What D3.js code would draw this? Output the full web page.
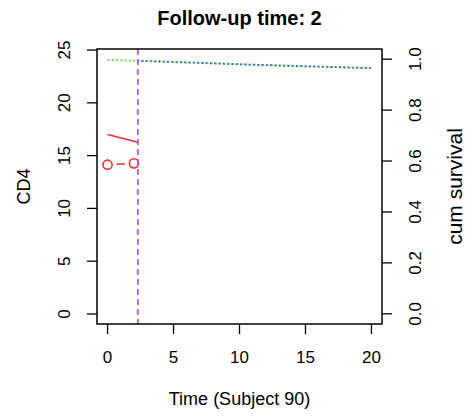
<!DOCTYPE html>
<html>
<head>
<meta charset="utf-8">
<script src="https://cdn.jsdelivr.net/npm/d3@7"></script>
<style>
  body { margin: 0; background: #fff; }
  text { font-family: "Liberation Sans", Arial, sans-serif; }
</style>
</head>
<body>
<svg></svg>
<script>
var width = 469;
var height = 417;

// observed CD4 values
var obsTime = [0, 2];
var obsCD4 = [14.14, 14.27];

// fitted longitudinal trajectory up to last follow-up
var fitTime = [0, 2.3];
var fitCD4 = [17.0, 16.26];

var lastTime = 2.3;

// cumulative survival curves
var survTime = [0, 2.3, 5, 10, 15, 20];
var survGreen = [0.997, 0.994, 0.989, 0.980, 0.972, 0.965];
var blueTime = [2.3, 5, 10, 15, 20];
var survBlue = [0.994, 0.989, 0.980, 0.972, 0.965];

var xTicks = [0, 5, 10, 15, 20];
var yTicks = [0, 5, 10, 15, 20, 25];
var sTicks = [0, 0.2, 0.4, 0.6, 0.8, 1.0];

var margin = {left: 97, right: 87, top: 49, bottom: 93};
var x0 = margin.left, x1 = width - margin.right;
var y0 = margin.top, y1 = height - margin.bottom;

var svg = d3.select('svg')
    .attr('width', width)
    .attr('height', height);

var x = d3.scaleLinear().domain([-0.8, 20.8]).range([x0, x1]);
var y = d3.scaleLinear().domain([-0.95, 25.1]).range([y1, y0]);
var ys = d3.scaleLinear().domain([-0.04, 1.04]).range([y1, y0]);

var tickLen = 10;
var tickFont = 17;

// x axis
var gx = svg.append('g');
gx.selectAll('line').data(xTicks).enter().append('line')
    .attr('x1', function(d) { return x(d); })
    .attr('x2', function(d) { return x(d); })
    .attr('y1', y1).attr('y2', y1 + tickLen)
    .attr('stroke', '#000').attr('stroke-width', 1.3);
gx.selectAll('text').data(xTicks).enter().append('text')
    .attr('x', function(d) { return x(d); })
    .attr('y', y1 + 33 + 0.36 * tickFont)
    .attr('text-anchor', 'middle')
    .attr('font-size', tickFont)
    .text(function(d) { return d; });

// left axis
var gy = svg.append('g');
gy.selectAll('line').data(yTicks).enter().append('line')
    .attr('x1', x0 - tickLen).attr('x2', x0)
    .attr('y1', function(d) { return y(d); })
    .attr('y2', function(d) { return y(d); })
    .attr('stroke', '#000').attr('stroke-width', 1.3);
gy.selectAll('text').data(yTicks).enter().append('text')
    .attr('transform', function(d) {
        return 'translate(' + (x0 - 33 + 0.36 * tickFont) + ',' + y(d) + ') rotate(-90)';
    })
    .attr('text-anchor', 'middle')
    .attr('font-size', tickFont)
    .text(function(d) { return d; });

// right axis
var gs = svg.append('g');
gs.selectAll('line').data(sTicks).enter().append('line')
    .attr('x1', x1).attr('x2', x1 + tickLen)
    .attr('y1', function(d) { return ys(d); })
    .attr('y2', function(d) { return ys(d); })
    .attr('stroke', '#000').attr('stroke-width', 1.3);
gs.selectAll('text').data(sTicks).enter().append('text')
    .attr('transform', function(d) {
        return 'translate(' + (x1 + 33 + 0.36 * tickFont) + ',' + ys(d) + ') rotate(-90)';
    })
    .attr('text-anchor', 'middle')
    .attr('font-size', tickFont)
    .text(function(d) { return d3.format('.1f')(d); });

// survival curves (dotted)
var sLine = d3.line()
    .x(function(d) { return x(d[0]); })
    .y(function(d) { return ys(d[1]); });

svg.append('path')
    .datum(d3.zip(survTime, survGreen))
    .attr('d', sLine)
    .attr('fill', 'none')
    .attr('stroke', '#6ade52')
    .attr('stroke-width', 2)
    .attr('stroke-dasharray', '2,2.3');

svg.append('path')
    .datum(d3.zip(blueTime, survBlue))
    .attr('d', sLine)
    .attr('fill', 'none')
    .attr('stroke', '#3355ee')
    .attr('stroke-width', 1.8)
    .attr('stroke-dasharray', '1.6,2.7')
    .attr('stroke-dashoffset', 1);

// fitted trajectory
var lLine = d3.line()
    .x(function(d) { return x(d[0]); })
    .y(function(d) { return y(d[1]); });

svg.append('path')
    .datum(d3.zip(fitTime, fitCD4))
    .attr('d', lLine)
    .attr('fill', 'none')
    .attr('stroke', '#f03030')
    .attr('stroke-width', 1.6);

// observed values, type "b" with dashes
var obs = d3.zip(obsTime, obsCD4);
var gap = 9;
for (var i = 0; i < obs.length - 1; i++) {
    var ax = x(obs[i][0]), ay = y(obs[i][1]);
    var bx = x(obs[i + 1][0]), by = y(obs[i + 1][1]);
    var len = Math.hypot(bx - ax, by - ay);
    var ux = (bx - ax) / len, uy = (by - ay) / len;
    svg.append('line')
        .attr('x1', ax + ux * gap).attr('y1', ay + uy * gap)
        .attr('x2', bx - ux * gap).attr('y2', by - uy * gap)
        .attr('stroke', '#f03030')
        .attr('stroke-width', 1.6);
}
svg.selectAll('circle.obs').data(obs).enter().append('circle')
    .attr('class', 'obs')
    .attr('cx', function(d) { return x(d[0]); })
    .attr('cy', function(d) { return y(d[1]); })
    .attr('r', 4.6)
    .attr('fill', 'none')
    .attr('stroke', '#f03030')
    .attr('stroke-width', 1.6);

// last follow-up time
svg.append('line')
    .attr('x1', x(lastTime)).attr('x2', x(lastTime))
    .attr('y1', y0).attr('y2', y1)
    .attr('stroke', '#a84cf8')
    .attr('stroke-width', 1.6)
    .attr('stroke-dasharray', '6,4');

// box
svg.append('rect')
    .attr('x', x0).attr('y', y0)
    .attr('width', x1 - x0).attr('height', y1 - y0)
    .attr('fill', 'none')
    .attr('stroke', '#000')
    .attr('stroke-width', 1.5);

// titles
svg.append('text')
    .attr('x', (x0 + x1) / 2)
    .attr('y', 18 + 0.36 * 20)
    .attr('text-anchor', 'middle')
    .attr('font-size', 20)
    .attr('font-weight', 'bold')
    .text('Follow-up time: 2');

svg.append('text')
    .attr('x', (x0 + x1) / 2)
    .attr('y', y1 + 75 + 0.36 * 18)
    .attr('text-anchor', 'middle')
    .attr('font-size', 18)
    .text('Time (Subject 90)');

svg.append('text')
    .attr('transform', 'translate(' + (24 + 0.36 * 18) + ',' + ((y0 + y1) / 2) + ') rotate(-90)')
    .attr('text-anchor', 'middle')
    .attr('font-size', 18)
    .text('CD4');

svg.append('text')
    .attr('transform', 'translate(' + (456 + 0.3 * 21) + ',' + ((y0 + y1) / 2) + ') rotate(-90)')
    .attr('text-anchor', 'middle')
    .attr('font-size', 21)
    .text('cum survival');
</script>
</body>
</html>
